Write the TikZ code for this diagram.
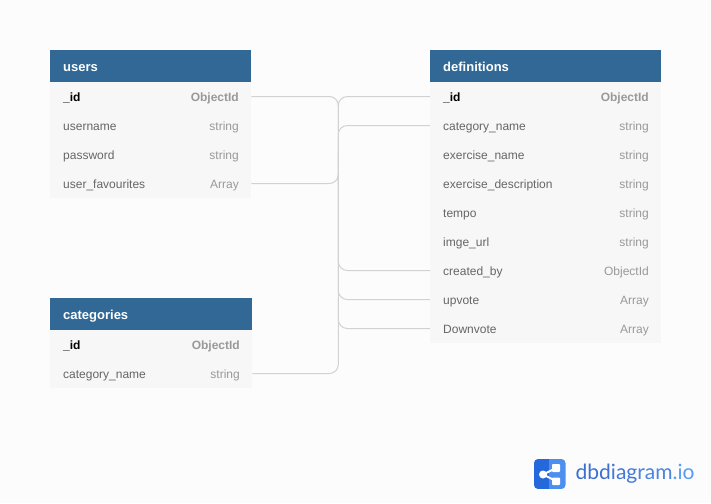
\documentclass[tikz,border=0pt]{standalone}
\usepackage{fontspec}
\setmainfont{Liberation Sans}
\newfontfamily\logofont{Lato}
\definecolor{bgc}{HTML}{FCFCFC}
\definecolor{headc}{HTML}{316896}
\definecolor{rowc}{HTML}{F7F7F7}
\definecolor{namec}{HTML}{666666}
\definecolor{typec}{HTML}{999999}
\definecolor{linec}{HTML}{D2D2D2}
\definecolor{logod}{HTML}{2468DC}
\definecolor{logol}{HTML}{4C8FEF}
\tikzset{
  x=1pt,y=-1pt,
  tablehead/.style={fill=headc,draw=none,inner sep=0,minimum height=32pt,anchor=north west,text=white},
  headtext/.style={anchor=base west,inner sep=0,text=white,font=\fontsize{13}{15}\selectfont\bfseries},
  rowbox/.style={fill=rowc,draw=none,inner sep=0,minimum height=29pt,anchor=west},
  fname/.style={anchor=base west,inner sep=0,text=namec,font=\fontsize{12}{14}\selectfont},
  ftype/.style={anchor=base east,inner sep=0,text=typec,font=\fontsize{12}{14}\selectfont},
  pkname/.style={anchor=base west,inner sep=0,text=black,font=\fontsize{12}{14}\selectfont\bfseries},
  pktype/.style={anchor=base east,inner sep=0,text=typec,font=\fontsize{12}{14}\selectfont\bfseries},
  relline/.style={draw=linec,line width=1pt,rounded corners=9pt},
}
\begin{document}
\begin{tikzpicture}
\useasboundingbox (0,0) rectangle (711,503);
\fill[bgc] (0,0) rectangle (711,503);
\coordinate (vx) at (338.3,0);
% users
\node[tablehead,minimum width=201pt] (usersh) at (50,50) {};
\node[headtext] (usersn) at (63,71) {users};
\fill[rowc] (50,82) rectangle (251,198);
\node[rowbox,minimum width=201pt] (uid) at (50,96.5) {};
\node[pkname] (uidn) at (63,101) {\_id};
\node[pktype] (uidt) at (239,101) {ObjectId};
\node[rowbox,minimum width=201pt] (uun) at (50,125.5) {};
\node[fname] (uunn) at (63,130) {username};
\node[ftype] (uunt) at (239,130) {string};
\node[rowbox,minimum width=201pt] (upw) at (50,154.5) {};
\node[fname] (upwn) at (63,159) {password};
\node[ftype] (upwt) at (239,159) {string};
\node[rowbox,minimum width=201pt] (ufv) at (50,183.5) {};
\node[fname] (ufvn) at (63,188) {user\_favourites};
\node[ftype] (ufvt) at (239,188) {Array};
% categories
\node[tablehead,minimum width=202pt] (cath) at (50,298) {};
\node[headtext] (catn) at (63,319) {categories};
\fill[rowc] (50,330) rectangle (252,388);
\node[rowbox,minimum width=202pt] (cid) at (50,344.5) {};
\node[pkname] (cidn) at (63,349) {\_id};
\node[pktype] (cidt) at (240,349) {ObjectId};
\node[rowbox,minimum width=202pt] (ccn) at (50,373.5) {};
\node[fname] (ccnn) at (63,378) {category\_name};
\node[ftype] (ccnt) at (240,378) {string};
% definitions
\node[tablehead,minimum width=231pt] (defh) at (430,50) {};
\node[headtext] (defn) at (443,71) {definitions};
\fill[rowc] (430,82) rectangle (661,343);
\node[rowbox,minimum width=231pt] (did) at (430,96.5) {};
\node[pkname] (didn) at (443,101) {\_id};
\node[pktype] (didt) at (649,101) {ObjectId};
\node[rowbox,minimum width=231pt] (dcat) at (430,125.5) {};
\node[fname] (dcatn) at (443,130) {category\_name};
\node[ftype] (dcatt) at (649,130) {string};
\node[rowbox,minimum width=231pt] (dex) at (430,154.5) {};
\node[fname] (dexn) at (443,159) {exercise\_name};
\node[ftype] (dext) at (649,159) {string};
\node[rowbox,minimum width=231pt] (ded) at (430,183.5) {};
\node[fname] (dedn) at (443,188) {exercise\_description};
\node[ftype] (dedt) at (649,188) {string};
\node[rowbox,minimum width=231pt] (dte) at (430,212.5) {};
\node[fname] (dten) at (443,217) {tempo};
\node[ftype] (dtet) at (649,217) {string};
\node[rowbox,minimum width=231pt] (dim) at (430,241.5) {};
\node[fname] (dimn) at (443,246) {imge\_url};
\node[ftype] (dimt) at (649,246) {string};
\node[rowbox,minimum width=231pt] (dcr) at (430,270.5) {};
\node[fname] (dcrn) at (443,275) {created\_by};
\node[ftype] (dcrt) at (649,275) {ObjectId};
\node[rowbox,minimum width=231pt] (dup) at (430,299.5) {};
\node[fname] (dupn) at (443,304) {upvote};
\node[ftype] (dupt) at (649,304) {Array};
\node[rowbox,minimum width=231pt] (ddn) at (430,328.5) {};
\node[fname] (ddnn) at (443,333) {Downvote};
\node[ftype] (ddnt) at (649,333) {Array};
% connectors
\draw[relline] (uid.east) -- (vx |- uid.east) -- (vx |- ddn.west) -- (ddn.west);
\draw[relline] (vx |- dex.west) -- (vx |- dcr.west) -- (dcr.west);
\draw[relline] (vx |- dex.west) -- (vx |- dup.west) -- (dup.west);
\draw[relline] (ufv.east) -- (vx |- ufv.east) -- (vx |- ded.west);
\draw[relline] (vx |- ded.west) -- (vx |- did.west) -- (did.west);
\draw[relline] (ccn.east) -- (vx |- ccn.east) -- (vx |- dup.west);
\draw[relline] (vx |- dex.west) -- (vx |- dcat.west) -- (dcat.west);
% logo
\begin{scope}
\clip[rounded corners=4pt] (534,459) rectangle (565.5,489);
\fill[logod] (534,459) rectangle (549,489);
\fill[logol] (549,459) rectangle (565.5,489);
\end{scope}
\draw[white,line width=2pt] (556,468) -- (543,474.5) -- (556,481);
\fill[white,rounded corners=0.8pt] (552,464) rectangle (560,472);
\fill[white,rounded corners=0.8pt] (552,477.5) rectangle (560,485);
\fill[white] (543,474.5) circle (4pt);
\node[anchor=west,inner sep=0,font=\logofont\fontsize{21}{24}\selectfont] (logo) at (575.5,474) {\textcolor[HTML]{3D6FD2}{dbd}\textcolor[HTML]{4278D8}{iag}\textcolor[HTML]{4A84E0}{ram}\textcolor[HTML]{5A9BF2}{.io}};
\end{tikzpicture}
\end{document}
